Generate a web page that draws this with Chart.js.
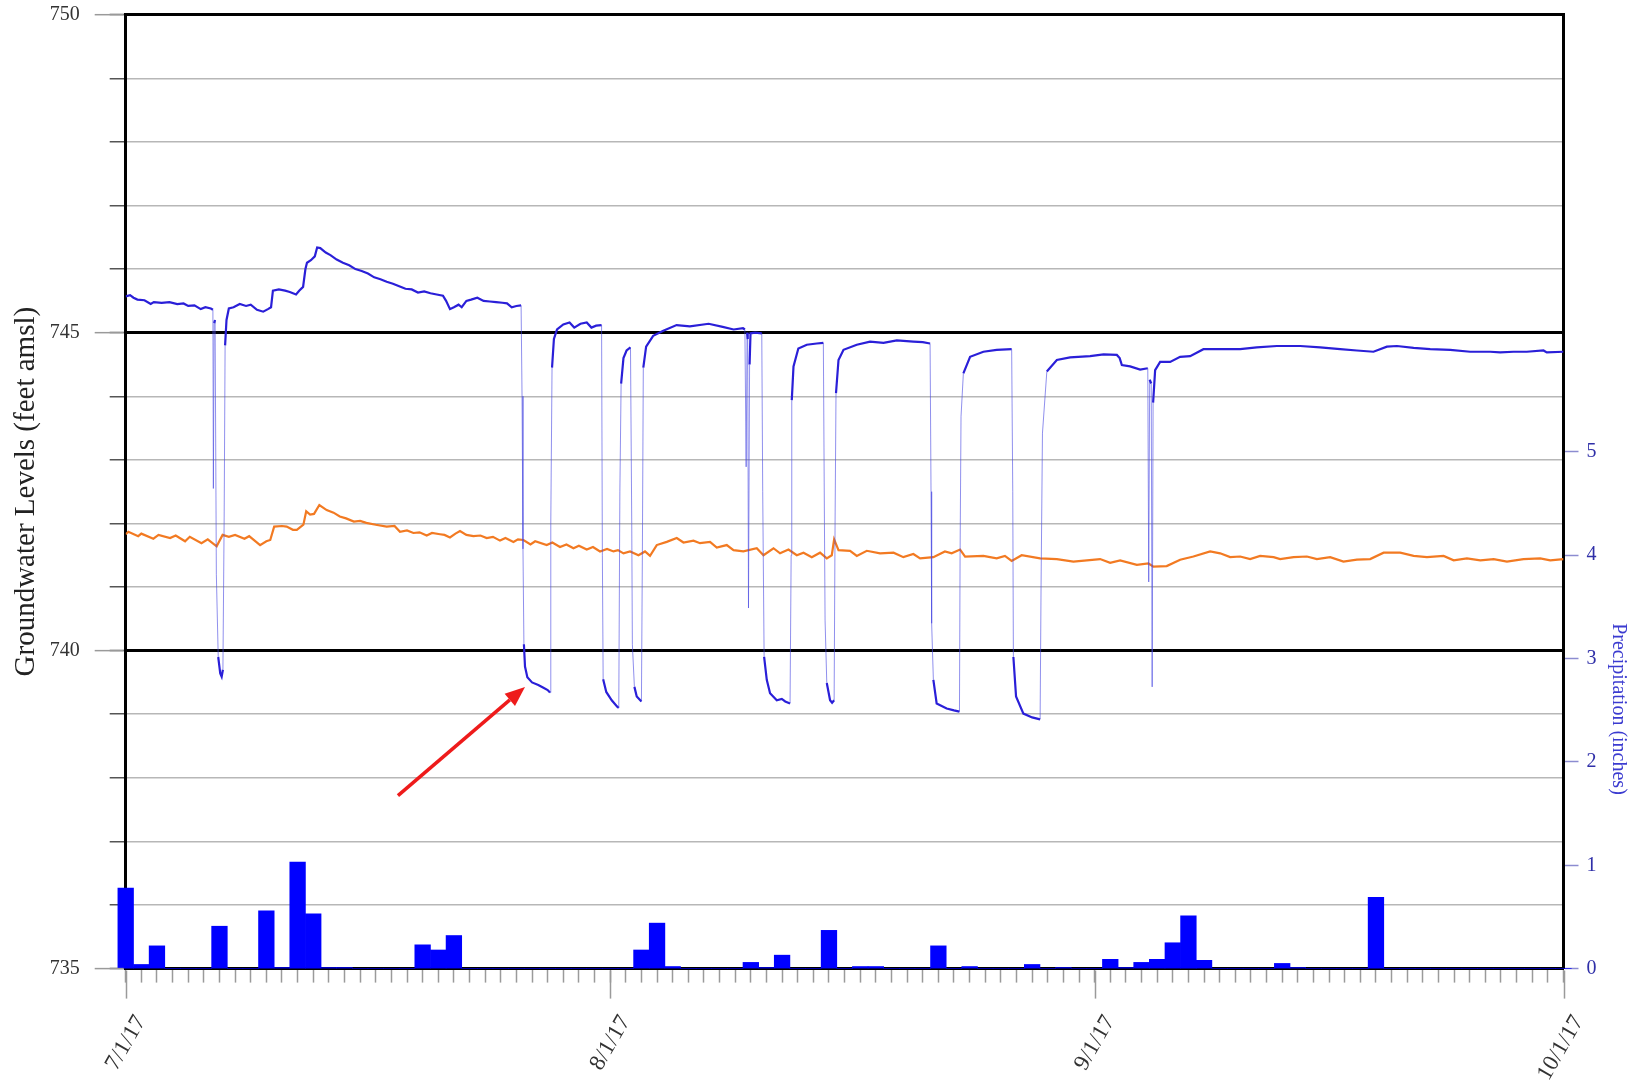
<!DOCTYPE html>
<html>
<head>
<meta charset="utf-8">
<script src="https://cdn.jsdelivr.net/npm/chart.js@4.4.1/dist/chart.umd.min.js"></script>
<style>
  html, body { margin: 0; padding: 0; background: #fff; }
  canvas { display: block; }
</style>
</head>
<body>
<canvas id="chart" width="1642" height="1088"></canvas>
<script>
// Pumping well record: days elapsed since 7/1/17 and water level (feet amsl)
const wellADays = [
  0.00, 0.28, 0.50, 0.75, 1.20, 1.60, 1.80, 2.30, 2.80, 3.30, 3.70, 4.00, 4.40, 4.80, 5.10, 5.45, 5.58,
  5.61, 5.66, 5.72, 5.80, 5.92, 6.05, 6.14, 6.22, 6.30, 6.36, 6.45, 6.60, 6.90, 7.30, 7.70, 8.00, 8.40,
  8.80, 9.10, 9.30, 9.42, 9.80, 10.20, 10.50, 10.90, 11.10, 11.35, 11.50, 11.60, 11.85, 12.10, 12.25,
  12.45, 12.80, 13.10, 13.50, 13.90, 14.30, 14.70, 15.10, 15.50, 15.90, 16.30, 16.70, 17.10, 17.50,
  17.90, 18.30, 18.70, 19.10, 19.50, 19.90, 20.30, 20.50, 20.75, 21.00, 21.30, 21.50, 21.80, 22.10,
  22.50, 22.90, 23.30, 23.70, 24.10, 24.40, 24.70, 25.00, 25.30, 25.36, 25.42, 25.48, 25.55, 25.70,
  26.00, 26.40, 26.70, 27.00, 27.15, 27.20, 27.28, 27.40, 27.60, 28.00, 28.40, 28.70, 29.10, 29.50,
  29.80, 30.10, 30.45, 30.50, 30.55, 30.75, 31.10, 31.45, 31.55, 31.62, 31.70, 31.85, 32.05, 32.30,
  32.38, 32.42, 32.55, 32.70, 33.00, 33.06, 33.12, 33.30, 33.75, 34.40, 35.25, 36.10, 37.30, 38.20,
  38.90, 39.50, 39.62, 39.70, 39.76, 39.80, 39.85, 39.92, 39.98, 40.27, 40.70, 40.76, 40.85, 41.02,
  41.23, 41.66, 41.98, 42.20, 42.51, 42.58, 42.62, 42.73, 43.04, 43.58, 44.22, 44.64, 44.71, 44.75,
  44.86, 45.07, 45.20, 45.33, 45.39, 45.45, 45.61, 45.93, 46.78, 47.63, 48.49, 49.34, 50.40, 51.00,
  51.47, 51.53, 51.57, 51.68, 51.89, 52.53, 53.00, 53.35, 53.39, 53.45, 53.60, 54.03, 54.88, 55.73,
  56.69, 56.76, 56.80, 56.97, 57.44, 58.00, 58.51, 58.57, 58.66, 58.94, 59.58, 60.43, 61.71, 62.57,
  63.42, 63.60, 63.74, 64.27, 64.91, 65.40, 65.46, 65.52, 65.62, 65.68, 65.74, 65.87, 66.19, 66.83,
  67.47, 68.11, 68.96, 70.24, 71.31, 72.37, 73.66, 75.15, 76.43, 77.71, 78.78, 79.84, 80.70, 81.34,
  82.41, 83.47, 84.75, 86.03, 87.31, 87.95, 88.80, 89.65, 90.72, 90.93, 92.00
];
const wellALevels = [
  745.57, 745.59, 745.55, 745.52, 745.51, 745.45, 745.48, 745.47, 745.48, 745.45, 745.46, 745.42, 745.43, 745.37, 745.40, 745.38, 745.36,
  742.55, 745.15, 745.20, 741.20, 739.90, 739.64, 739.59, 739.70, 742.10, 744.80, 745.20, 745.38, 745.40, 745.45, 745.42, 745.44, 745.36,
  745.33, 745.37, 745.40, 745.66, 745.68, 745.66, 745.64, 745.60, 745.66, 745.72, 746.00, 746.10, 746.14, 746.20, 746.34,
  746.33, 746.26, 746.22, 746.15, 746.10, 746.06, 746.00, 745.97, 745.93, 745.87, 745.84, 745.80, 745.77, 745.73,
  745.69, 745.68, 745.63, 745.65, 745.62, 745.60, 745.58, 745.50, 745.37, 745.40, 745.44, 745.40, 745.50, 745.52,
  745.55, 745.50, 745.49, 745.48, 745.47, 745.46, 745.40, 745.42, 745.43, 744.00, 741.60, 740.10, 739.75, 739.58,
  739.50, 739.46, 739.42, 739.38, 739.34, 742.00, 744.45, 744.90, 745.05, 745.13, 745.16, 745.08, 745.14, 745.16,
  745.08, 745.11, 745.12, 741.50, 739.55, 739.35, 739.22, 739.12, 739.10, 742.50, 744.20, 744.60, 744.72, 744.77,
  742.00, 740.10, 739.43, 739.28, 739.20, 741.50, 744.45, 744.78, 744.95, 745.03, 745.12, 745.10, 745.14, 745.09,
  745.05, 745.07, 745.05, 742.89, 745.00, 744.90, 740.67, 744.50, 744.99, 745.00, 744.99, 742.50, 739.90, 739.54,
  739.33, 739.22, 739.24, 739.20, 739.17, 741.50, 743.94, 744.47, 744.75, 744.81, 744.83, 744.84, 742.00, 740.48,
  739.49, 739.22, 739.18, 739.22, 742.00, 744.05, 744.57, 744.73, 744.81, 744.86, 744.84, 744.88, 744.86, 744.85,
  744.83, 742.50, 740.43, 739.54, 739.17, 739.09, 739.06, 739.04, 741.50, 743.68, 744.36, 744.62, 744.70, 744.73,
  744.74, 742.50, 739.90, 739.28, 739.01, 738.95, 738.92, 741.00, 743.42, 744.39, 744.57, 744.61, 744.63, 744.66,
  744.65, 744.60, 744.49, 744.47, 744.42, 744.44, 741.08, 744.26, 744.20, 739.43, 743.90, 744.41, 744.54, 744.54,
  744.62, 744.63, 744.74, 744.74, 744.74, 744.77, 744.79, 744.79, 744.77, 744.74, 744.72, 744.70, 744.78, 744.79,
  744.76, 744.74, 744.73, 744.70, 744.70, 744.69, 744.70, 744.70, 744.72, 744.69, 744.70
];

// Observation well record: days elapsed since 7/1/17 and water level (feet amsl)
const wellBDays = [
  0.00, 0.17, 0.80, 1.00, 1.77, 2.10, 2.84, 3.20, 3.80, 4.10, 4.85, 5.25, 5.82, 6.20, 6.60, 7.00, 7.60,
  7.90, 8.60, 9.00, 9.25, 9.50, 10.00, 10.30, 10.70, 10.95, 11.37, 11.55, 11.80, 12.05, 12.39, 12.86,
  13.30, 13.70, 14.10, 14.60, 15.00, 15.40, 16.00, 16.70, 17.20, 17.55, 18.00, 18.41, 18.80, 19.26,
  19.60, 20.11, 20.40, 20.75, 21.10, 21.39, 21.80, 22.25, 22.70, 23.10, 23.50, 23.95, 24.30, 24.81,
  25.10, 25.45, 25.90, 26.20, 26.94, 27.30, 27.79, 28.20, 28.65, 29.00, 29.50, 29.90, 30.35, 30.80,
  31.21, 31.50, 31.85, 32.27, 32.81, 33.23, 33.55, 33.98, 34.62, 35.26, 35.69, 36.33, 36.75, 37.39,
  37.82, 38.46, 38.89, 39.52, 40.38, 40.81, 41.45, 41.87, 42.41, 42.94, 43.37, 43.90, 44.43, 44.86,
  45.18, 45.33, 45.61, 46.35, 46.78, 47.42, 48.27, 49.13, 49.76, 50.40, 50.83, 51.68, 52.42, 52.85,
  53.39, 53.71, 54.88, 55.73, 56.26, 56.69, 57.33, 58.51, 59.58, 60.64, 61.50, 62.35, 62.99, 63.63,
  64.70, 65.44, 65.76, 66.61, 67.47, 68.32, 69.39, 70.03, 70.67, 71.31, 71.95, 72.59, 73.45, 73.87,
  74.73, 75.58, 76.22, 77.07, 77.92, 78.78, 79.63, 80.49, 81.55, 82.41, 83.26, 84.33, 84.97, 85.82,
  86.68, 87.53, 88.38, 89.44, 90.51, 91.15, 92.00
];
const wellBLevels = [
  741.83, 741.87, 741.80, 741.84, 741.76, 741.82, 741.77, 741.81, 741.72, 741.79, 741.69, 741.75, 741.64, 741.82, 741.79, 741.82, 741.76,
  741.80, 741.66, 741.72, 741.74, 741.95, 741.96, 741.95, 741.90, 741.90, 741.98, 742.19, 742.14, 742.15, 742.29, 742.21,
  742.17, 742.11, 742.08, 742.03, 742.04, 742.01, 741.98, 741.95, 741.96, 741.87, 741.89, 741.85, 741.86, 741.81,
  741.85, 741.83, 741.82, 741.78, 741.84, 741.88, 741.82, 741.80, 741.81, 741.77, 741.79, 741.73, 741.77, 741.71,
  741.75, 741.74, 741.67, 741.72, 741.66, 741.70, 741.63, 741.67, 741.61, 741.65, 741.59, 741.63, 741.56, 741.60,
  741.56, 741.58, 741.53, 741.56, 741.50, 741.56, 741.49, 741.66, 741.71, 741.77, 741.70, 741.73, 741.69, 741.71,
  741.62, 741.66, 741.58, 741.56, 741.61, 741.50, 741.61, 741.53, 741.59, 741.50, 741.54, 741.47, 741.54, 741.45,
  741.50, 741.75, 741.58, 741.57, 741.49, 741.57, 741.53, 741.54, 741.47, 741.52, 741.45, 741.47, 741.56, 741.53,
  741.59, 741.48, 741.49, 741.45, 741.49, 741.41, 741.50, 741.45, 741.44, 741.40, 741.42, 741.44, 741.38, 741.42,
  741.35, 741.37, 741.32, 741.33, 741.43, 741.48, 741.56, 741.53, 741.47, 741.48, 741.44, 741.49, 741.47, 741.44,
  741.47, 741.48, 741.44, 741.47, 741.40, 741.43, 741.44, 741.54, 741.54, 741.49, 741.47, 741.49, 741.42, 741.45,
  741.42, 741.44, 741.40, 741.44, 741.45, 741.42, 741.44
];

// Daily precipitation totals (inches), one value per day starting 7/1/17
const precipInches = [
  0.78, 0.04, 0.22, 0, 0, 0, 0.41, 0, 0, 0.56, 0.01, 1.03, 0.53, 0.01, 0.01, 0,
  0, 0, 0, 0.23, 0.18, 0.32, 0, 0, 0, 0, 0, 0, 0, 0, 0,
  0, 0, 0.18, 0.44, 0.02, 0, 0, 0, 0, 0.06, 0.01, 0.13, 0, 0, 0.37, 0,
  0.02, 0.02, 0, 0, 0, 0.22, 0, 0.02, 0, 0, 0, 0.04, 0, 0.01, 0,
  0, 0.09, 0.01, 0.06, 0.09, 0.25, 0.51, 0.08, 0, 0, 0, 0, 0.05, 0.01, 0,
  0, 0, 0, 0.69, 0, 0, 0, 0, 0, 0, 0, 0, 0, 0, 0, 0
];

// Axis labelling
const monthTickDays = [0, 31, 62, 92];
const monthTickLabels = ['7/1/17', '8/1/17', '9/1/17', '10/1/17'];
const levelLabelValues = [735, 740, 745, 750];
const precipTickValues = [0, 1, 2, 3, 4, 5];

// Callout arrow: tail and head as [day, level]
const arrowTail = [17.42, 737.72];
const arrowHead = [25.55, 739.43];

const SERIF = '"Liberation Serif", "Times New Roman", serif';

function pairs(xs, ys) { return xs.map((x, i) => ({ x: x, y: ys[i] })); }

function isSteep(c) {
  const dy = Math.abs(c.p1.y - c.p0.y);
  const dx = Math.abs(c.p1.x - c.p0.x);
  return dy > 40 && dy > 4 * dx;
}

// keep tick-label padding from shrinking the plot area
function noEdgePadding(s) {
  s.paddingTop = 0; s.paddingBottom = 0;
  s.paddingLeft = 0; s.paddingRight = 0;
}

// Long tick marks, right-hand axis title and the callout arrow
const decorations = {
  id: 'decorations',
  afterDraw(chart) {
    const { ctx, chartArea } = chart;
    const xs = chart.scales.x, ys = chart.scales.y;
    ctx.save();
    ctx.lineWidth = 1.5;
    ctx.strokeStyle = '#9a9a9a';
    monthTickDays.forEach(d => {
      const px = Math.round(xs.getPixelForValue(d)) + 0.5;
      ctx.beginPath();
      ctx.moveTo(px, chartArea.bottom + 2);
      ctx.lineTo(px, chartArea.bottom + 30);
      ctx.stroke();
    });
    levelLabelValues.forEach(v => {
      const py = ys.getPixelForValue(v);
      ctx.beginPath();
      ctx.moveTo(chartArea.left - 31, py);
      ctx.lineTo(chartArea.left - 2, py);
      ctx.stroke();
    });

    // right axis title
    ctx.fillStyle = '#3b3bd0';
    ctx.font = '20px ' + SERIF;
    ctx.textAlign = 'center';
    ctx.textBaseline = 'middle';
    ctx.translate(1618, 709);
    ctx.rotate(Math.PI / 2);
    ctx.fillText('Precipitation (inches)', 0, 0);
    ctx.restore();

    // callout arrow
    const x0 = xs.getPixelForValue(arrowTail[0]), y0 = ys.getPixelForValue(arrowTail[1]);
    const x1 = xs.getPixelForValue(arrowHead[0]), y1 = ys.getPixelForValue(arrowHead[1]);
    const ang = Math.atan2(y1 - y0, x1 - x0);
    const headLen = 20, headHalf = 8;
    const bx = x1 - headLen * Math.cos(ang), by = y1 - headLen * Math.sin(ang);
    ctx.save();
    ctx.strokeStyle = '#ee1b1b';
    ctx.fillStyle = '#ee1b1b';
    ctx.lineWidth = 3.5;
    ctx.beginPath();
    ctx.moveTo(x0, y0);
    ctx.lineTo(bx, by);
    ctx.stroke();
    ctx.beginPath();
    ctx.moveTo(x1, y1);
    ctx.lineTo(bx + headHalf * Math.sin(ang), by - headHalf * Math.cos(ang));
    ctx.lineTo(bx - headHalf * Math.sin(ang), by + headHalf * Math.cos(ang));
    ctx.closePath();
    ctx.fill();
    ctx.restore();
  }
};

new Chart(document.getElementById('chart'), {
  type: 'bar',
  data: {
    datasets: [
      {
        type: 'line',
        label: 'Pumping well',
        data: pairs(wellADays, wellALevels),
        xAxisID: 'x', yAxisID: 'y',
        borderColor: '#2a1fd8',
        borderWidth: 2.2,
        pointRadius: 0,
        tension: 0,
        order: 1,
        segment: {
          borderWidth: c => isSteep(c) ? 1 : 2.2,
          borderColor: c => isSteep(c) ? 'rgba(70,70,225,0.6)' : '#2a1fd8'
        }
      },
      {
        type: 'line',
        label: 'Observation well',
        data: pairs(wellBDays, wellBLevels),
        xAxisID: 'x', yAxisID: 'y',
        borderColor: '#f27a22',
        borderWidth: 2.2,
        pointRadius: 0,
        tension: 0,
        order: 2
      },
      {
        type: 'bar',
        label: 'Precipitation',
        data: precipInches.map((v, i) => ({ x: i, y: v })),
        xAxisID: 'x', yAxisID: 'y1',
        backgroundColor: '#0000ff',
        borderWidth: 0,
        barPercentage: 1,
        categoryPercentage: 1,
        clip: false,
        order: 3
      }
    ]
  },
  options: {
    responsive: false,
    animation: false,
    devicePixelRatio: 1,
    layout: { padding: { top: 14.7, left: 0, right: 0, bottom: 0 } },
    plugins: { legend: { display: false }, tooltip: { enabled: false } },
    scales: {
      x: {
        type: 'linear',
        position: 'bottom',
        min: 0,
        max: 92,
        offset: false,
        afterBuildTicks: s => {
          const t = [];
          for (let d = 0; d <= 92; d++) t.push({ value: d });
          s.ticks = t;
        },
        afterFit: s => { s.height = 119.4; noEdgePadding(s); },
        grid: {
          drawOnChartArea: false,
          offset: false,
          tickLength: 14,
          tickWidth: 1.5,
          tickColor: '#9a9a9a'
        },
        border: { display: true, color: '#000', width: 3 },
        ticks: {
          autoSkip: false,
          minRotation: 60,
          maxRotation: 60,
          padding: 28,
          labelOffset: 15,
          color: '#333',
          font: { family: SERIF, size: 23 },
          callback: v => {
            const k = monthTickDays.indexOf(v);
            return k >= 0 ? monthTickLabels[k] : '';
          }
        }
      },
      y: {
        type: 'linear',
        position: 'left',
        min: 735,
        max: 750,
        afterBuildTicks: s => {
          const t = [];
          for (let v = 735; v <= 750; v++) t.push({ value: v });
          s.ticks = t;
        },
        afterFit: s => { s.width = 125.7; noEdgePadding(s); },
        grid: {
          color: c => (c.tick && (c.tick.value % 5 === 0)) ? '#000' : '#b7b7b7',
          lineWidth: c => (c.tick && (c.tick.value % 5 === 0)) ? 3 : 1.5,
          tickLength: 16,
          tickWidth: 1.5,
          tickColor: '#555'
        },
        border: { display: true, color: '#000', width: 3 },
        ticks: {
          padding: 30,
          color: '#333',
          font: { family: SERIF, size: 20 },
          callback: v => levelLabelValues.includes(v) ? String(v) : ''
        },
        title: {
          display: true,
          text: 'Groundwater Levels (feet amsl)',
          color: '#222',
          font: { family: SERIF, size: 29 },
          padding: { top: 9, bottom: 0 }
        }
      },
      y1: {
        type: 'linear',
        position: 'right',
        min: 0,
        max: 9.23,
        afterBuildTicks: s => { s.ticks = precipTickValues.map(v => ({ value: v })); },
        afterFit: s => { s.width = 78.5; noEdgePadding(s); },
        grid: {
          drawOnChartArea: false,
          tickLength: 15,
          tickWidth: 1.5,
          tickColor: '#8c8cd0'
        },
        border: { display: true, color: '#000', width: 3 },
        ticks: {
          padding: 8,
          color: '#2f2fa8',
          font: { family: SERIF, size: 20 }
        }
      }
    }
  },
  plugins: [decorations]
});
</script>
</body>
</html>
